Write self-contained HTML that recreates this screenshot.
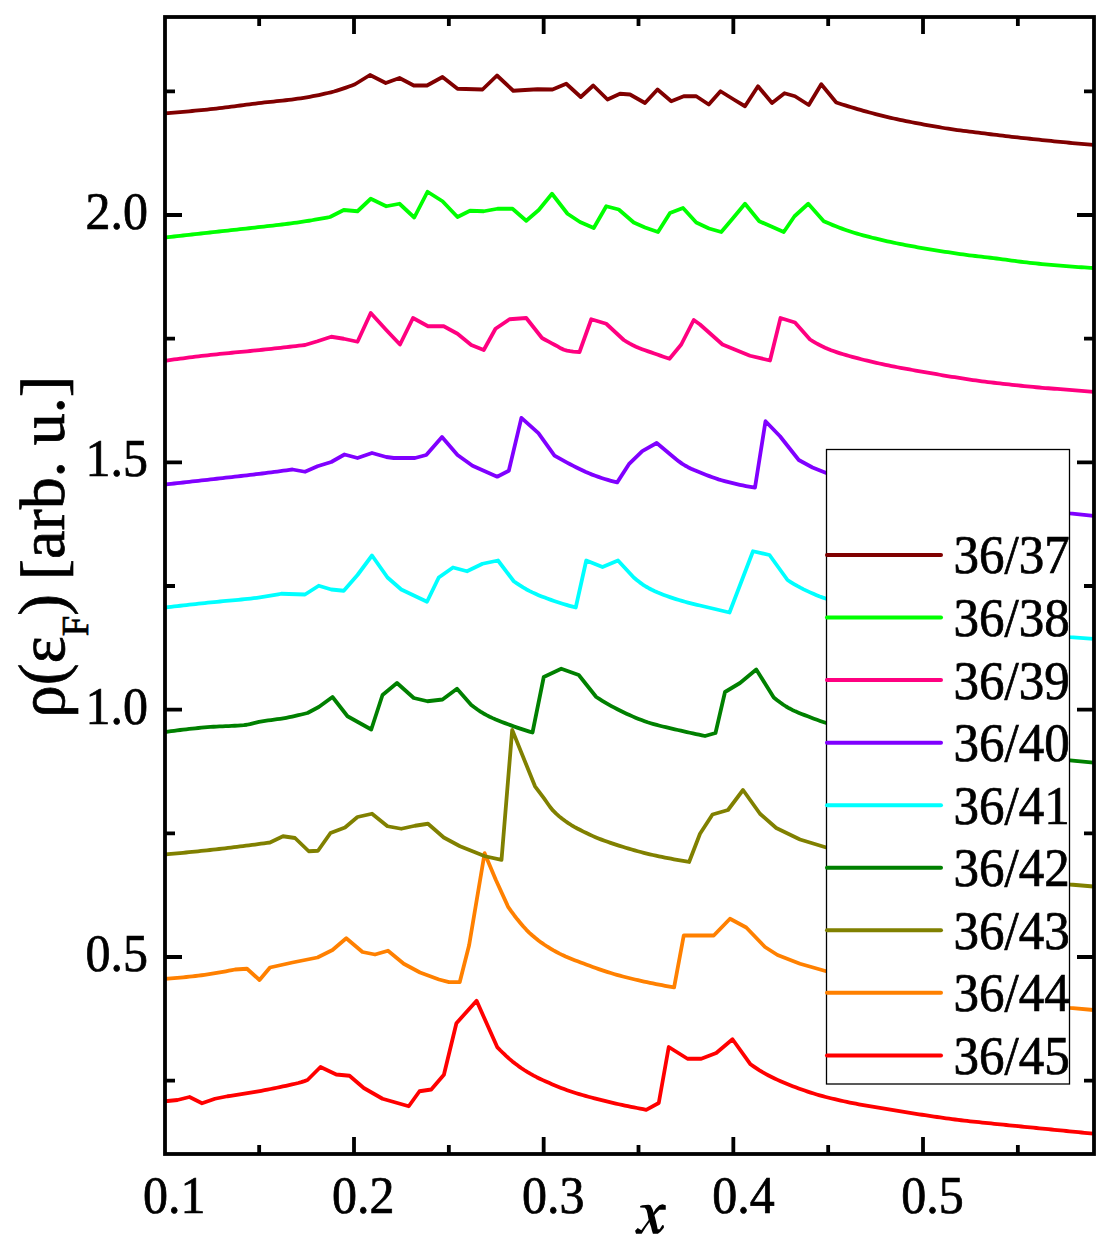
<!DOCTYPE html>
<html><head><meta charset="utf-8"><style>
html,body{margin:0;padding:0;background:#fff;width:1116px;height:1246px;overflow:hidden}
svg{display:block}
</style></head><body>
<svg width="1116" height="1246" viewBox="0 0 1116 1246">
<rect x="0" y="0" width="1116" height="1246" fill="#fff"/>
<defs><clipPath id="pc"><rect x="165" y="17" width="929" height="1137"/></clipPath></defs>

<g clip-path="url(#pc)" fill="none" stroke-width="3.8" stroke-linejoin="round" stroke-linecap="butt">
<polyline stroke="#ff0000" points="165,1101.25 177.5,1100 189.5,1097 202,1103.25 215,1098.75 227.5,1096.25 230.58,1095.81 233.65,1095.36 236.73,1094.9 239.81,1094.42 242.88,1093.93 245.96,1093.42 249.04,1092.91 252.12,1092.39 255.19,1091.85 258.27,1091.31 261.35,1090.76 264.42,1090.19 267.5,1089.6 270.58,1089 273.65,1088.38 276.73,1087.75 279.81,1087.11 282.88,1086.46 285.96,1085.79 289.04,1085.13 292.12,1084.46 295.19,1083.74 298.27,1082.97 301.35,1082.11 304.42,1081.1 307.5,1080 320.5,1067 336.25,1074.5 349.5,1075.75 363.75,1088 382.5,1098.75 408.75,1106.25 419.5,1091.25 431.25,1089.5 443.9,1074.7 456.4,1023.2 476.6,1000.8 497.2,1047.1 500.24,1050.24 503.28,1053.24 506.32,1056.11 509.36,1058.83 512.4,1061.4 515.44,1063.82 518.49,1066.09 521.53,1068.23 524.57,1070.24 527.61,1072.13 530.65,1073.91 533.69,1075.59 536.73,1077.18 539.77,1078.68 542.81,1080.12 545.85,1081.51 548.89,1082.86 551.93,1084.18 554.98,1085.47 558.02,1086.72 561.06,1087.92 564.1,1089.08 567.14,1090.19 570.18,1091.23 573.22,1092.23 576.26,1093.19 579.3,1094.11 582.34,1095 585.38,1095.87 588.42,1096.71 591.47,1097.54 594.51,1098.36 597.55,1099.16 600.59,1099.94 603.63,1100.7 606.67,1101.45 609.71,1102.17 612.75,1102.88 615.79,1103.57 618.83,1104.24 621.87,1104.89 624.91,1105.53 627.96,1106.15 631,1106.78 634.04,1107.4 637.08,1108.01 640.12,1108.61 643.16,1109.21 646.2,1109.8 658.75,1103 668.75,1047 687.5,1058.75 701.25,1058.75 716.25,1053 732.5,1039.25 750.5,1064.3 753.51,1066.41 756.52,1068.44 759.53,1070.38 762.54,1072.2 765.54,1073.88 768.55,1075.48 771.56,1077.01 774.57,1078.48 777.58,1079.89 780.59,1081.25 783.6,1082.55 786.61,1083.8 789.61,1085 792.62,1086.18 795.63,1087.32 798.64,1088.44 801.65,1089.53 804.66,1090.58 807.67,1091.6 810.68,1092.59 813.68,1093.54 816.69,1094.45 819.7,1095.33 822.71,1096.17 825.72,1096.97 828.73,1097.74 831.74,1098.49 834.75,1099.22 837.75,1099.92 840.76,1100.6 843.77,1101.25 846.78,1101.89 849.79,1102.52 852.8,1103.13 855.81,1103.72 858.82,1104.3 861.82,1104.86 864.83,1105.4 867.84,1105.92 870.85,1106.43 873.86,1106.93 876.87,1107.43 879.88,1107.92 882.89,1108.4 885.89,1108.89 888.9,1109.39 891.91,1109.88 894.92,1110.38 897.93,1110.88 900.94,1111.38 903.95,1111.87 906.96,1112.37 909.96,1112.86 912.97,1113.34 915.98,1113.82 918.99,1114.29 922,1114.75 925.01,1115.21 928.02,1115.66 931.03,1116.11 934.04,1116.56 937.04,1117 940.05,1117.44 943.06,1117.87 946.07,1118.29 949.08,1118.71 952.09,1119.11 955.1,1119.5 958.11,1119.88 961.11,1120.24 964.12,1120.59 967.13,1120.93 970.14,1121.27 973.15,1121.59 976.16,1121.91 979.17,1122.23 982.18,1122.54 985.18,1122.85 988.19,1123.16 991.2,1123.48 994.21,1123.79 997.22,1124.1 1000.23,1124.4 1003.24,1124.7 1006.25,1125 1009.25,1125.3 1012.26,1125.6 1015.27,1125.9 1018.28,1126.19 1021.29,1126.49 1024.3,1126.79 1027.31,1127.09 1030.32,1127.39 1033.32,1127.69 1036.33,1127.99 1039.34,1128.29 1042.35,1128.59 1045.36,1128.89 1048.37,1129.19 1051.38,1129.49 1054.39,1129.79 1057.39,1130.09 1060.4,1130.39 1063.41,1130.69 1066.42,1130.99 1069.43,1131.29 1072.44,1131.59 1075.45,1131.89 1078.46,1132.19 1081.46,1132.5 1084.47,1132.8 1087.48,1133.1 1090.49,1133.4 1093.5,1133.7"/>
<polyline stroke="#ff8000" points="165,978.75 168.04,978.56 171.09,978.35 174.13,978.12 177.17,977.86 180.22,977.59 183.26,977.3 186.3,976.99 189.35,976.67 192.39,976.34 195.43,975.99 198.48,975.63 201.52,975.25 204.57,974.84 207.61,974.41 210.65,973.95 213.7,973.46 216.74,972.96 219.78,972.43 222.83,971.88 225.87,971.31 228.91,970.72 231.96,970.12 235,969.5 247,968.75 259.5,980 270,967.5 292.5,962.5 317.5,957.5 332.5,950 346.25,938.25 362.5,952 375,954.5 388,950.75 403.75,963.75 420,972.5 439,979.5 449,982.2 459.7,982.2 469.1,945.3 484.6,853.2 496,880.3 508.3,907.2 511.31,911.43 514.33,915.47 517.34,919.31 520.36,922.95 523.37,926.48 526.39,929.81 529.4,932.82 532.42,935.53 535.43,938.07 538.45,940.44 541.46,942.67 544.47,944.75 547.49,946.72 550.5,948.58 553.52,950.36 556.53,952.03 559.55,953.61 562.56,955.1 565.58,956.49 568.59,957.79 571.61,959.02 574.62,960.2 577.63,961.34 580.65,962.47 583.66,963.58 586.68,964.7 589.69,965.83 592.71,966.94 595.72,968.04 598.74,969.12 601.75,970.16 604.77,971.17 607.78,972.13 610.79,973.05 613.81,973.95 616.82,974.81 619.84,975.65 622.85,976.47 625.87,977.26 628.88,978.02 631.9,978.77 634.91,979.49 637.93,980.19 640.94,980.87 643.95,981.54 646.97,982.19 649.98,982.82 653,983.44 656.01,984.05 659.03,984.64 662.04,985.22 665.06,985.79 668.07,986.34 671.09,986.88 674.1,987.4 683.75,935.5 713.75,935.5 730,918.75 746.25,927.5 765,947 777.5,955 800,963.75 826.25,971.25 900,985 1070,1007.9 1093.5,1010"/>
<polyline stroke="#808000" points="165,854.5 168,854.23 171,853.96 174,853.68 177,853.39 180,853.1 183,852.81 186,852.51 189,852.21 192,851.91 195,851.6 198,851.29 201,850.97 204,850.65 207,850.33 210,850 213,849.67 216,849.33 219,848.99 222,848.64 225,848.28 228,847.92 231,847.56 234,847.19 237,846.82 240,846.45 243,846.07 246,845.69 249,845.31 252,844.92 255,844.53 258,844.13 261,843.73 264,843.32 267,842.91 270,842.5 283,836.25 295,838 308.75,851.25 318,850.75 330.5,833 345,827.5 357.5,817 372,813.75 387.5,826.25 401.25,828.75 415,825.75 428,823.75 443.75,837.5 460,846.25 485,856.25 501.5,859.8 512.2,729.9 535,786.3 538.02,790.34 541.04,794.39 544.06,798.45 547.09,802.75 550.11,806.98 553.13,810.69 556.15,813.7 559.17,816.38 562.19,818.81 565.22,821.03 568.24,823.09 571.26,825.01 574.28,826.8 577.3,828.47 580.32,830.05 583.35,831.58 586.37,833.06 589.39,834.49 592.41,835.86 595.43,837.18 598.45,838.43 601.47,839.62 604.5,840.74 607.52,841.82 610.54,842.85 613.56,843.86 616.58,844.85 619.6,845.82 622.63,846.78 625.65,847.72 628.67,848.64 631.69,849.53 634.71,850.39 637.73,851.22 640.75,852.03 643.78,852.81 646.8,853.58 649.82,854.31 652.84,855.02 655.86,855.69 658.88,856.33 661.91,856.95 664.93,857.54 667.95,858.13 670.97,858.7 673.99,859.28 677.01,859.84 680.04,860.4 683.06,860.94 686.08,861.48 689.1,862 700,833.75 712.5,814.5 728,810 743,790 760,813.75 776.25,828 800,839.5 826.25,847.5 900,862 1070,884.5 1093.5,886.5"/>
<polyline stroke="#008000" points="165,732 168.03,731.58 171.06,731.16 174.1,730.76 177.13,730.37 180.16,729.99 183.19,729.62 186.22,729.27 189.26,728.93 192.29,728.6 195.32,728.29 198.35,727.99 201.38,727.71 204.41,727.45 207.45,727.2 210.48,726.96 213.51,726.76 216.54,726.59 219.57,726.44 222.61,726.31 225.64,726.18 228.67,726.05 231.7,725.91 234.73,725.76 237.77,725.58 240.8,725.37 243.83,725.11 246.86,724.76 249.89,724.16 252.93,723.42 255.96,722.64 258.99,721.94 262.02,721.4 265.05,720.92 268.09,720.48 271.12,720.06 274.15,719.65 277.18,719.23 280.21,718.79 283.24,718.3 286.28,717.77 289.31,717.19 292.34,716.57 295.37,715.91 298.4,715.22 301.44,714.51 304.47,713.77 307.5,713 318.75,707 332.5,697 347.5,716.25 371.25,729.5 382.5,695 397,683 413.75,698 427.5,701.25 442.5,699.5 457,688.75 471.25,705 474.31,707.3 477.38,709.5 480.44,711.56 483.5,713.47 486.56,715.16 489.62,716.7 492.69,718.13 495.75,719.47 498.81,720.73 501.88,721.94 504.94,723.11 508,724.26 511.06,725.39 514.12,726.51 517.19,727.59 520.25,728.64 523.31,729.66 526.38,730.64 529.44,731.59 532.5,732.5 543.75,677 561.25,668.75 578.75,675 596.25,697 599.27,698.91 602.29,700.77 605.31,702.58 608.33,704.34 611.35,706.04 614.38,707.69 617.4,709.27 620.42,710.8 623.44,712.27 626.46,713.67 629.48,715.04 632.5,716.38 635.52,717.66 638.54,718.9 641.56,720.08 644.58,721.19 647.6,722.23 650.62,723.19 653.65,724.09 656.67,724.93 659.69,725.72 662.71,726.48 665.73,727.21 668.75,727.92 671.77,728.61 674.79,729.3 677.81,729.99 680.83,730.69 683.85,731.39 686.88,732.08 689.9,732.76 692.92,733.43 695.94,734.08 698.96,734.73 701.98,735.37 705,736 715.5,733 725,692 740,683 756.25,669.5 773.75,697.5 776.84,699.97 779.93,702.31 783.01,704.5 786.1,706.51 789.19,708.31 792.28,709.91 795.37,711.36 798.46,712.68 801.54,713.93 804.63,715.14 807.72,716.34 810.81,717.53 813.9,718.69 816.99,719.82 820.07,720.92 823.16,721.98 826.25,723 900,740 1070,760.3 1093.5,762.7"/>
<polyline stroke="#00ffff" points="165,607.5 168.06,607.14 171.12,606.79 174.18,606.44 177.24,606.09 180.3,605.74 183.36,605.4 186.41,605.06 189.47,604.72 192.53,604.38 195.59,604.04 198.65,603.71 201.71,603.38 204.77,603.05 207.83,602.73 210.89,602.41 213.95,602.1 217.01,601.8 220.07,601.51 223.12,601.22 226.18,600.94 229.24,600.67 232.3,600.39 235.36,600.1 238.42,599.81 241.48,599.51 244.54,599.2 247.6,598.87 250.66,598.53 253.72,598.16 256.78,597.77 259.84,597.35 262.89,596.9 265.95,596.42 269.01,595.92 272.07,595.4 275.13,594.86 278.19,594.31 281.25,593.75 305,594.5 318.75,585.75 331.25,589.5 343.75,590.75 357.5,575 372,555.5 387.5,577.5 401.25,589.5 427,601.75 438.75,577.5 453,567.5 467,571.25 482.5,563.75 498,560.5 513.75,581.25 516.85,583.4 519.95,585.45 523.05,587.4 526.15,589.21 529.25,590.87 532.35,592.39 535.45,593.8 538.55,595.13 541.65,596.39 544.75,597.58 547.85,598.73 550.95,599.84 554.05,600.92 557.15,601.97 560.25,603 563.35,603.98 566.45,604.93 569.55,605.83 572.65,606.69 575.75,607.5 586.25,560.5 602.5,567 618,560.5 633.75,577.5 636.76,580 639.77,582.36 642.78,584.55 645.8,586.51 648.81,588.21 651.82,589.76 654.83,591.19 657.84,592.51 660.85,593.75 663.86,594.92 666.88,596.03 669.89,597.09 672.9,598.1 675.91,599.07 678.92,600 681.93,600.88 684.94,601.74 687.95,602.56 690.97,603.35 693.98,604.12 696.99,604.83 700,605.5 729.5,612.5 753,551.25 769.5,555 787.5,580 790.73,582.04 793.96,584.01 797.19,585.89 800.42,587.67 803.65,589.34 806.88,590.89 810.1,592.39 813.33,593.82 816.56,595.18 819.79,596.46 823.02,597.65 826.25,598.75 900,615 1070,637.2 1093.5,638.9"/>
<polyline stroke="#8000ff" points="165,484.5 168.04,484.17 171.07,483.84 174.11,483.5 177.14,483.17 180.18,482.83 183.21,482.5 186.25,482.16 189.29,481.82 192.32,481.48 195.36,481.15 198.39,480.81 201.43,480.47 204.46,480.12 207.5,479.78 210.54,479.44 213.57,479.1 216.61,478.76 219.64,478.42 222.68,478.08 225.71,477.73 228.75,477.39 231.79,477.05 234.82,476.71 237.86,476.36 240.89,476.01 243.93,475.66 246.96,475.31 250,474.95 253.04,474.59 256.07,474.23 259.11,473.86 262.14,473.49 265.18,473.11 268.21,472.72 271.25,472.33 274.29,471.94 277.32,471.54 280.36,471.14 283.39,470.73 286.43,470.33 289.46,469.91 292.5,469.5 305,471.75 317.5,466.25 331.25,462 344.5,454.5 357.5,458 372,453 386.25,457 393.75,458 415,458 426.25,455 442,437 457.5,455 472.5,465.75 497.2,476.7 508.8,470.8 521.4,417.9 538.4,433.2 554.5,455.6 557.63,457.43 560.77,459.22 563.9,460.96 567.04,462.65 570.17,464.28 573.31,465.87 576.45,467.46 579.58,469.01 582.72,470.53 585.85,471.98 588.99,473.35 592.12,474.63 595.25,475.79 598.39,476.91 601.53,477.97 604.66,478.99 607.8,479.94 610.93,480.83 614.07,481.65 617.2,482.4 628.9,464.2 642.3,451.1 656.7,443 672.8,456.5 675.84,459.04 678.89,461.41 681.93,463.58 684.98,465.52 688.02,467.21 691.07,468.71 694.11,470.08 697.16,471.35 700.2,472.58 703.24,473.79 706.29,474.98 709.33,476.14 712.38,477.26 715.42,478.33 718.47,479.34 721.51,480.27 724.56,481.13 727.6,481.93 730.64,482.7 733.69,483.44 736.73,484.15 739.78,484.82 742.82,485.46 745.87,486.04 748.91,486.58 751.96,487.07 755,487.5 765.5,421.25 780,436.25 798.75,460 812.5,467.5 826.25,473 900,490 1070,513.4 1093.5,515.8"/>
<polyline stroke="#ff0080" points="165,360.75 168.04,360.32 171.09,359.9 174.13,359.48 177.17,359.07 180.22,358.67 183.26,358.26 186.3,357.87 189.35,357.48 192.39,357.09 195.43,356.72 198.48,356.35 201.52,355.98 204.57,355.62 207.61,355.27 210.65,354.93 213.7,354.59 216.74,354.27 219.78,353.95 222.83,353.64 225.87,353.34 228.91,353.04 231.96,352.75 235,352.46 238.04,352.17 241.09,351.88 244.13,351.58 247.17,351.29 250.22,350.99 253.26,350.69 256.3,350.38 259.35,350.07 262.39,349.75 265.43,349.42 268.48,349.1 271.52,348.77 274.57,348.44 277.61,348.1 280.65,347.77 283.7,347.43 286.74,347.09 289.78,346.75 292.83,346.4 295.87,346.05 298.91,345.7 301.96,345.35 305,345 317.5,341.25 331.25,336.75 343.75,338.75 357.5,341.75 370.75,313 386.25,330 400,344.5 413,318 428,326.25 443.75,326.25 457.5,333.75 471.25,345 483.75,350 495.5,328.75 509.5,319.25 526.25,318 542,338 545.12,339.75 548.25,341.45 551.38,343.12 554.5,344.74 557.62,346.46 560.75,348.28 563.88,349.79 567,350.64 570.12,351.17 573.25,351.6 576.38,351.89 579.5,352 591.25,319.25 606.25,323.75 623.75,340 626.8,341.86 629.85,343.62 632.9,345.24 635.95,346.68 639,347.97 642.05,349.16 645.1,350.28 648.15,351.36 651.2,352.41 654.25,353.48 657.3,354.57 660.35,355.64 663.4,356.69 666.45,357.73 669.5,358.75 681.25,344.5 693.75,320 700,324.5 722.5,344.5 750,355.75 770,360.5 780.5,318 795,322.5 810,339.5 813.02,341.35 816.03,343.1 819.05,344.74 822.06,346.26 825.08,347.65 828.1,348.95 831.11,350.16 834.13,351.29 837.14,352.35 840.16,353.34 843.18,354.28 846.19,355.18 849.21,356.04 852.22,356.88 855.24,357.68 858.26,358.46 861.27,359.23 864.29,359.98 867.3,360.72 870.32,361.44 873.34,362.15 876.35,362.83 879.37,363.5 882.38,364.16 885.4,364.8 888.41,365.43 891.43,366.04 894.45,366.65 897.46,367.24 900.48,367.82 903.49,368.38 906.51,368.93 909.53,369.47 912.54,370 915.56,370.53 918.57,371.05 921.59,371.58 924.61,372.11 927.62,372.64 930.64,373.18 933.65,373.7 936.67,374.23 939.69,374.75 942.7,375.27 945.72,375.77 948.73,376.27 951.75,376.76 954.77,377.24 957.78,377.72 960.8,378.19 963.81,378.66 966.83,379.12 969.85,379.57 972.86,380.01 975.88,380.44 978.89,380.86 981.91,381.26 984.93,381.65 987.94,382.03 990.96,382.4 993.97,382.76 996.99,383.11 1000.01,383.45 1003.02,383.8 1006.04,384.13 1009.05,384.46 1012.07,384.79 1015.09,385.12 1018.1,385.44 1021.12,385.75 1024.13,386.06 1027.15,386.37 1030.16,386.67 1033.18,386.96 1036.2,387.24 1039.21,387.51 1042.23,387.77 1045.24,388.02 1048.26,388.26 1051.28,388.5 1054.29,388.74 1057.31,388.97 1060.32,389.2 1063.34,389.44 1066.36,389.67 1069.37,389.91 1072.39,390.15 1075.4,390.39 1078.42,390.62 1081.44,390.86 1084.45,391.1 1087.47,391.33 1090.48,391.57 1093.5,391.8"/>
<polyline stroke="#00ff00" points="165,237.5 168,237.17 171,236.83 174,236.5 177,236.16 180,235.83 183,235.49 186,235.16 189,234.83 192,234.49 195,234.16 198,233.83 201,233.5 204,233.16 207,232.83 210,232.5 213,232.17 216,231.84 219,231.51 222,231.19 225,230.86 228,230.54 231,230.21 234,229.89 237,229.56 240,229.23 243,228.91 246,228.57 249,228.24 252,227.91 255,227.57 258,227.23 261,226.89 264,226.54 267,226.21 270,225.87 273,225.53 276,225.19 279,224.84 282,224.49 285,224.13 288,223.76 291,223.38 294,222.98 297,222.57 300,222.14 303,221.69 306,221.23 309,220.75 312,220.25 315,219.74 318,219.22 321,218.68 324,218.13 327,217.57 330,217 343.75,210 357.5,211.25 370.75,198.75 386.25,206.25 399.5,203.75 414.25,217.5 427.5,191.75 442.5,201.25 457.5,217 470,210.75 483.75,211.25 497.5,208.75 512.5,208.75 526.25,220.75 538.75,210 552,193.75 567.5,213.75 580,222 593.75,228 606.25,206.25 618.75,209.5 633.75,222.5 645,227.5 658,232 670,213 683,208 696.25,222.5 709,228.5 721.25,232 732.5,218.75 745,203.75 759.25,221.25 772.5,227 783.75,232 794.5,216.25 808.25,203.75 823.75,221.25 826.78,222.57 829.81,223.87 832.84,225.12 835.87,226.34 838.9,227.52 841.94,228.65 844.97,229.75 848,230.79 851.03,231.79 854.06,232.73 857.09,233.64 860.12,234.52 863.15,235.36 866.18,236.18 869.21,236.96 872.24,237.73 875.28,238.47 878.31,239.2 881.34,239.92 884.37,240.62 887.4,241.3 890.43,241.96 893.46,242.61 896.49,243.24 899.52,243.86 902.55,244.46 905.58,245.05 908.62,245.63 911.65,246.19 914.68,246.74 917.71,247.28 920.74,247.81 923.77,248.32 926.8,248.83 929.83,249.33 932.86,249.82 935.89,250.31 938.92,250.8 941.96,251.28 944.99,251.76 948.02,252.23 951.05,252.69 954.08,253.15 957.11,253.6 960.14,254.04 963.17,254.46 966.2,254.87 969.23,255.27 972.26,255.64 975.29,256 978.33,256.35 981.36,256.7 984.39,257.05 987.42,257.39 990.45,257.75 993.48,258.11 996.51,258.49 999.54,258.89 1002.57,259.3 1005.6,259.72 1008.63,260.14 1011.67,260.56 1014.7,260.97 1017.73,261.37 1020.76,261.75 1023.79,262.11 1026.82,262.45 1029.85,262.79 1032.88,263.12 1035.91,263.43 1038.94,263.74 1041.97,264.04 1045.01,264.34 1048.04,264.62 1051.07,264.88 1054.1,265.14 1057.13,265.4 1060.16,265.65 1063.19,265.9 1066.22,266.14 1069.25,266.37 1072.28,266.6 1075.31,266.82 1078.35,267.04 1081.38,267.25 1084.41,267.45 1087.44,267.64 1090.47,267.82 1093.5,268"/>
<polyline stroke="#800000" points="165,113.25 168.02,113.03 171.03,112.8 174.05,112.57 177.06,112.32 180.08,112.07 183.1,111.82 186.11,111.55 189.13,111.28 192.14,111.01 195.16,110.72 198.17,110.43 201.19,110.14 204.21,109.84 207.22,109.54 210.24,109.23 213.25,108.9 216.27,108.56 219.29,108.21 222.3,107.85 225.32,107.47 228.33,107.09 231.35,106.7 234.37,106.3 237.38,105.9 240.4,105.5 243.41,105.1 246.43,104.71 249.44,104.32 252.46,103.93 255.48,103.55 258.49,103.18 261.51,102.82 264.52,102.48 267.54,102.16 270.56,101.84 273.57,101.53 276.59,101.22 279.6,100.9 282.62,100.58 285.63,100.25 288.65,99.9 291.67,99.53 294.68,99.14 297.7,98.72 300.71,98.27 303.73,97.8 306.75,97.3 309.76,96.78 312.78,96.23 315.79,95.64 318.81,95.03 321.83,94.39 324.84,93.72 327.86,93.02 330.87,92.28 333.89,91.48 336.9,90.61 339.92,89.67 342.94,88.68 345.95,87.63 348.97,86.54 351.98,85.41 355,84.25 370,75 385.75,83 399.5,78 413.75,85.5 427,85.5 442.5,77 457.5,88.75 482.5,89.5 497,75.5 513.25,90.75 525,90 537.5,89.25 552.5,89.5 566.25,83.75 580.75,97 593.25,85.5 607.5,99.5 620,93.75 630,94.5 645,103 657.5,89.5 671.25,101.25 683.75,96.25 696.25,96.25 708.75,104.5 720.5,91.25 733.75,99.5 745,106.25 758,86.25 772,103 784.5,93.25 795,96.25 808.75,105 821.25,84.25 836.25,102.5 839.28,103.49 842.3,104.46 845.33,105.42 848.36,106.36 851.38,107.28 854.41,108.19 857.44,109.08 860.46,109.95 863.49,110.81 866.51,111.64 869.54,112.46 872.57,113.27 875.59,114.07 878.62,114.85 881.65,115.61 884.67,116.36 887.7,117.09 890.73,117.8 893.75,118.49 896.78,119.16 899.81,119.8 902.83,120.44 905.86,121.05 908.89,121.65 911.91,122.24 914.94,122.82 917.96,123.39 920.99,123.96 924.02,124.51 927.04,125.07 930.07,125.62 933.1,126.17 936.12,126.71 939.15,127.23 942.18,127.75 945.2,128.25 948.23,128.73 951.26,129.19 954.28,129.63 957.31,130.05 960.34,130.46 963.36,130.85 966.39,131.23 969.41,131.61 972.44,131.98 975.47,132.35 978.49,132.73 981.52,133.1 984.55,133.48 987.57,133.86 990.6,134.24 993.63,134.61 996.65,134.98 999.68,135.35 1002.71,135.72 1005.73,136.07 1008.76,136.43 1011.79,136.77 1014.81,137.11 1017.84,137.45 1020.86,137.78 1023.89,138.11 1026.92,138.43 1029.94,138.75 1032.97,139.07 1036,139.39 1039.02,139.71 1042.05,140.02 1045.08,140.34 1048.1,140.65 1051.13,140.96 1054.16,141.27 1057.18,141.57 1060.21,141.87 1063.24,142.17 1066.26,142.46 1069.29,142.74 1072.31,143.03 1075.34,143.31 1078.37,143.58 1081.39,143.85 1084.42,144.12 1087.45,144.38 1090.47,144.64 1093.5,144.9"/>
</g>
<rect x="826.5" y="449.5" width="243" height="634.5" fill="#fff" stroke="#000" stroke-width="1.3"/>
<line x1="827" y1="555.00" x2="941" y2="555.00" stroke="#800000" stroke-width="4" stroke-linecap="round"/>
<text transform="translate(953.5,573.40) scale(1,1.07)" font-family="Liberation Serif" font-size="51" stroke="#000" stroke-width="0.7">36/37</text>
<line x1="827" y1="617.55" x2="941" y2="617.55" stroke="#00ff00" stroke-width="4" stroke-linecap="round"/>
<text transform="translate(953.5,635.95) scale(1,1.07)" font-family="Liberation Serif" font-size="51" stroke="#000" stroke-width="0.7">36/38</text>
<line x1="827" y1="680.10" x2="941" y2="680.10" stroke="#ff0080" stroke-width="4" stroke-linecap="round"/>
<text transform="translate(953.5,698.50) scale(1,1.07)" font-family="Liberation Serif" font-size="51" stroke="#000" stroke-width="0.7">36/39</text>
<line x1="827" y1="742.65" x2="941" y2="742.65" stroke="#8000ff" stroke-width="4" stroke-linecap="round"/>
<text transform="translate(953.5,761.05) scale(1,1.07)" font-family="Liberation Serif" font-size="51" stroke="#000" stroke-width="0.7">36/40</text>
<line x1="827" y1="805.20" x2="941" y2="805.20" stroke="#00ffff" stroke-width="4" stroke-linecap="round"/>
<text transform="translate(953.5,823.60) scale(1,1.07)" font-family="Liberation Serif" font-size="51" stroke="#000" stroke-width="0.7">36/41</text>
<line x1="827" y1="867.75" x2="941" y2="867.75" stroke="#008000" stroke-width="4" stroke-linecap="round"/>
<text transform="translate(953.5,886.15) scale(1,1.07)" font-family="Liberation Serif" font-size="51" stroke="#000" stroke-width="0.7">36/42</text>
<line x1="827" y1="930.30" x2="941" y2="930.30" stroke="#808000" stroke-width="4" stroke-linecap="round"/>
<text transform="translate(953.5,948.70) scale(1,1.07)" font-family="Liberation Serif" font-size="51" stroke="#000" stroke-width="0.7">36/43</text>
<line x1="827" y1="992.85" x2="941" y2="992.85" stroke="#ff8000" stroke-width="4" stroke-linecap="round"/>
<text transform="translate(953.5,1011.25) scale(1,1.07)" font-family="Liberation Serif" font-size="51" stroke="#000" stroke-width="0.7">36/44</text>
<line x1="827" y1="1055.40" x2="941" y2="1055.40" stroke="#ff0000" stroke-width="4" stroke-linecap="round"/>
<text transform="translate(953.5,1073.80) scale(1,1.07)" font-family="Liberation Serif" font-size="51" stroke="#000" stroke-width="0.7">36/45</text>
<path d="M259.17 1154 V1145 M259.17 17 V26 M354.00 1154 V1137 M354.00 17 V34 M448.84 1154 V1145 M448.84 17 V26 M543.67 1154 V1137 M543.67 17 V34 M638.50 1154 V1145 M638.50 17 V26 M733.34 1154 V1137 M733.34 17 V34 M828.18 1154 V1145 M828.18 17 V26 M923.01 1154 V1137 M923.01 17 V34 M1017.85 1154 V1145 M1017.85 17 V26 M165 1080.67 H175 M1094 1080.67 H1084 M165 957.00 H182 M1094 957.00 H1077 M165 833.34 H175 M1094 833.34 H1084 M165 709.67 H182 M1094 709.67 H1077 M165 586.00 H175 M1094 586.00 H1084 M165 462.34 H182 M1094 462.34 H1077 M165 338.67 H175 M1094 338.67 H1084 M165 215.00 H182 M1094 215.00 H1077 M165 91.33 H175 M1094 91.33 H1084" stroke="#000" stroke-width="3.8" fill="none"/>
<rect x="165" y="17" width="929" height="1137" fill="none" stroke="#000" stroke-width="3.8"/>
<text transform="translate(143.00,1213) scale(1,1.055)" font-family="Liberation Serif" font-size="50" stroke="#000" stroke-width="0.7">0.1</text>
<text transform="translate(332.00,1213) scale(1,1.055)" font-family="Liberation Serif" font-size="50" stroke="#000" stroke-width="0.7">0.2</text>
<text transform="translate(522.00,1213) scale(1,1.055)" font-family="Liberation Serif" font-size="50" stroke="#000" stroke-width="0.7">0.3</text>
<text transform="translate(712.20,1213) scale(1,1.055)" font-family="Liberation Serif" font-size="50" stroke="#000" stroke-width="0.7">0.4</text>
<text transform="translate(901.20,1213) scale(1,1.055)" font-family="Liberation Serif" font-size="50" stroke="#000" stroke-width="0.7">0.5</text>
<text transform="translate(148,229.00) scale(1,1.055)" font-family="Liberation Serif" font-size="50" text-anchor="end" stroke="#000" stroke-width="0.7">2.0</text>
<text transform="translate(148,476.34) scale(1,1.055)" font-family="Liberation Serif" font-size="50" text-anchor="end" stroke="#000" stroke-width="0.7">1.5</text>
<text transform="translate(148,723.67) scale(1,1.055)" font-family="Liberation Serif" font-size="50" text-anchor="end" stroke="#000" stroke-width="0.7">1.0</text>
<text transform="translate(148,971.00) scale(1,1.055)" font-family="Liberation Serif" font-size="50" text-anchor="end" stroke="#000" stroke-width="0.7">0.5</text>
<g transform="translate(630,1198) scale(0.037636)" fill="#000"><path d="M270,215 L330,190 L490,178 L545,190 L600,300 L640,430 L665,520 L690,620 L715,730 L735,830 L790,830 L860,720 L900,730 L900,790 L810,900 L740,950 L610,950 L585,880 L560,770 L520,660 L490,560 L465,420 L440,320 L395,260 L270,255 Z"/><path d="M860,165 L950,190 L950,310 L780,310 L660,440 L520,640 L420,780 L310,950 L160,950 L135,870 L205,800 L300,855 L420,690 L560,500 L680,290 L780,190 Z"/></g>
<text transform="translate(64.3,717.7) rotate(-90)" font-family="Liberation Serif" font-size="65" xml:space="preserve" stroke="#000" stroke-width="0.7">ρ(ε<tspan font-size="37" dy="23.4">F</tspan><tspan dy="-23.4">)</tspan></text>
<text transform="translate(64.3,580.3) rotate(-90)" font-family="Liberation Serif" font-size="64" stroke="#000" stroke-width="0.7">[arb. u.]</text>
</svg></body></html>
